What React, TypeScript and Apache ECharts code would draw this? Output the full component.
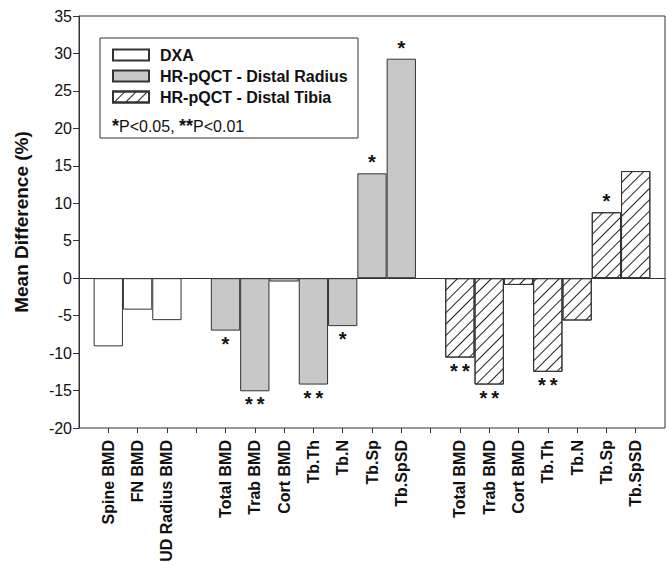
import React, { useEffect, useRef } from "react";
import * as echarts from "echarts";

const categories = [
  "Spine BMD", "FN BMD", "UD Radius BMD", "",
  "Total BMD", "Trab BMD", "Cort BMD", "Tb.Th", "Tb.N", "Tb.Sp", "Tb.SpSD", "",
  "Total BMD", "Trab BMD", "Cort BMD", "Tb.Th", "Tb.N", "Tb.Sp", "Tb.SpSD",
];
const dxaValues = [-9.1, -4.2, -5.6, null, null, null, null, null, null, null, null, null, null, null, null, null, null, null, null];
const radiusValues = [null, null, null, null, -7.0, -15.1, -0.45, -14.2, -6.4, 14.0, 29.3, null, null, null, null, null, null, null, null];
const tibiaValues = [null, null, null, null, null, null, null, null, null, null, null, null, -10.6, -14.2, -0.9, -12.5, -5.65, 8.8, 14.3];
const starCounts = [0, 0, 0, 0, 1, 2, 0, 2, 1, 1, 1, 0, 2, 2, 0, 2, 0, 1, 0];
const seriesNames = ["DXA", "HR-pQCT - Distal Radius", "HR-pQCT - Distal Tibia"];
const yMin = -20;
const yMax = 35;
const yStep = 5;
const yTitle = "Mean Difference (%)";
const pNote = "{s|*}P<0.05, {s|**}P<0.01";

const FONT = "'Liberation Sans', Arial, sans-serif";
const LINE = "#333";

function starText(n: number) {
  return n === 2 ? "*\u2009*" : n === 1 ? "*" : "";
}

function buildData(values: (number | null)[]) {
  return values.map((v, i) => {
    if (v == null) return "-";
    const n = starCounts[i];
    return {
      value: v,
      label: {
        show: n > 0,
        position: v < 0 ? "bottom" : "top",
        distance: v < 0 ? 3 : 1,
        formatter: () => starText(n),
        fontSize: 20,
        fontWeight: "bold",
        color: "#111",
        fontFamily: FONT,
      },
    };
  });
}

export default function App() {
  const ref = useRef<HTMLDivElement>(null);
  useEffect(() => {
    if (!ref.current) return;
    const chart = echarts.init(ref.current, undefined, { renderer: "svg" });
    const frameLeft = 79;
    const frameTop = 16;
    const frameW = 586;
    const frameH = 412;
    const slot = frameW / (categories.length + 1);
    const barStyle = { borderColor: LINE, borderWidth: 1 };
    chart.setOption({
      animation: false,
      backgroundColor: "#fff",
      grid: [
        { left: frameLeft, top: frameTop, width: frameW, height: frameH, show: true, borderColor: LINE, borderWidth: 1, backgroundColor: "transparent" },
        { left: frameLeft + slot / 2, top: frameTop, width: slot * categories.length, height: frameH },
      ],
      xAxis: [
        {
          gridIndex: 0, type: "value", min: 0, max: 1,
          axisLine: { show: true, onZero: true, lineStyle: { color: LINE, width: 1 } },
          axisTick: { show: false }, axisLabel: { show: false }, splitLine: { show: false },
        },
        {
          gridIndex: 1, type: "category", data: categories, boundaryGap: true,
          axisLine: { show: false, onZero: false },
          axisTick: { show: true, alignWithLabel: true, length: 5, lineStyle: { color: LINE } },
          axisLabel: { rotate: 90, interval: 0, fontSize: 16, fontWeight: "bold", color: "#111", margin: 12, fontFamily: FONT },
          splitLine: { show: false },
        },
      ],
      yAxis: [
        {
          gridIndex: 0, type: "value", min: yMin, max: yMax, interval: yStep,
          axisLine: { show: true, lineStyle: { color: LINE } },
          axisTick: { show: true, length: 6, lineStyle: { color: LINE } },
          axisLabel: { fontSize: 16, color: "#111", margin: 7, fontFamily: FONT },
          splitLine: { show: false },
          name: yTitle, nameLocation: "middle", nameGap: 48,
          nameTextStyle: { fontSize: 19, fontWeight: "bold", color: "#111", fontFamily: FONT },
        },
        { gridIndex: 1, type: "value", min: yMin, max: yMax, interval: yStep, show: false },
      ],
      legend: {
        data: seriesNames, orient: "vertical", left: 112, top: 47,
        itemWidth: 36, itemHeight: 11, itemGap: 5, icon: "rect", selectedMode: false, padding: 0,
        textStyle: { fontSize: 16, fontWeight: "bold", color: "#111", fontFamily: FONT, padding: [0, 0, 0, 6] },
      },
      graphic: [
        { type: "rect", shape: { x: 100, y: 38, width: 258, height: 100 }, style: { fill: "none", stroke: LINE, lineWidth: 1 }, z: 10 },
        {
          type: "text", x: 112, y: 126,
          style: {
            text: pNote, fill: "#111", font: `16px ${FONT}`, verticalAlign: "middle",
            rich: { s: { fontSize: 18, fontWeight: "bold", fill: "#111", fontFamily: FONT, verticalAlign: "top" } },
          },
          z: 10,
        },
      ],
      series: [
        { name: seriesNames[0], type: "bar", xAxisIndex: 1, yAxisIndex: 1, barWidth: "100%", barGap: "-100%", data: buildData(dxaValues), itemStyle: { color: "#fff", ...barStyle } },
        { name: seriesNames[1], type: "bar", xAxisIndex: 1, yAxisIndex: 1, barWidth: "100%", barGap: "-100%", data: buildData(radiusValues), itemStyle: { color: "#c8c8c8", ...barStyle } },
        {
          name: seriesNames[2], type: "bar", xAxisIndex: 1, yAxisIndex: 1, barWidth: "100%", barGap: "-100%", data: buildData(tibiaValues),
          itemStyle: {
            color: "#fff", ...barStyle,
            decal: { symbol: "rect", symbolSize: 1, color: "#222", backgroundColor: "#fff", dashArrayX: [1, 0], dashArrayY: [1, 7], rotation: -Math.PI / 4 },
          },
        },
      ],
    });
    return () => chart.dispose();
  }, []);
  return <div ref={ref} style={{ position: "absolute", left: 0, top: 0, width: 667, height: 565 }} />;
}
